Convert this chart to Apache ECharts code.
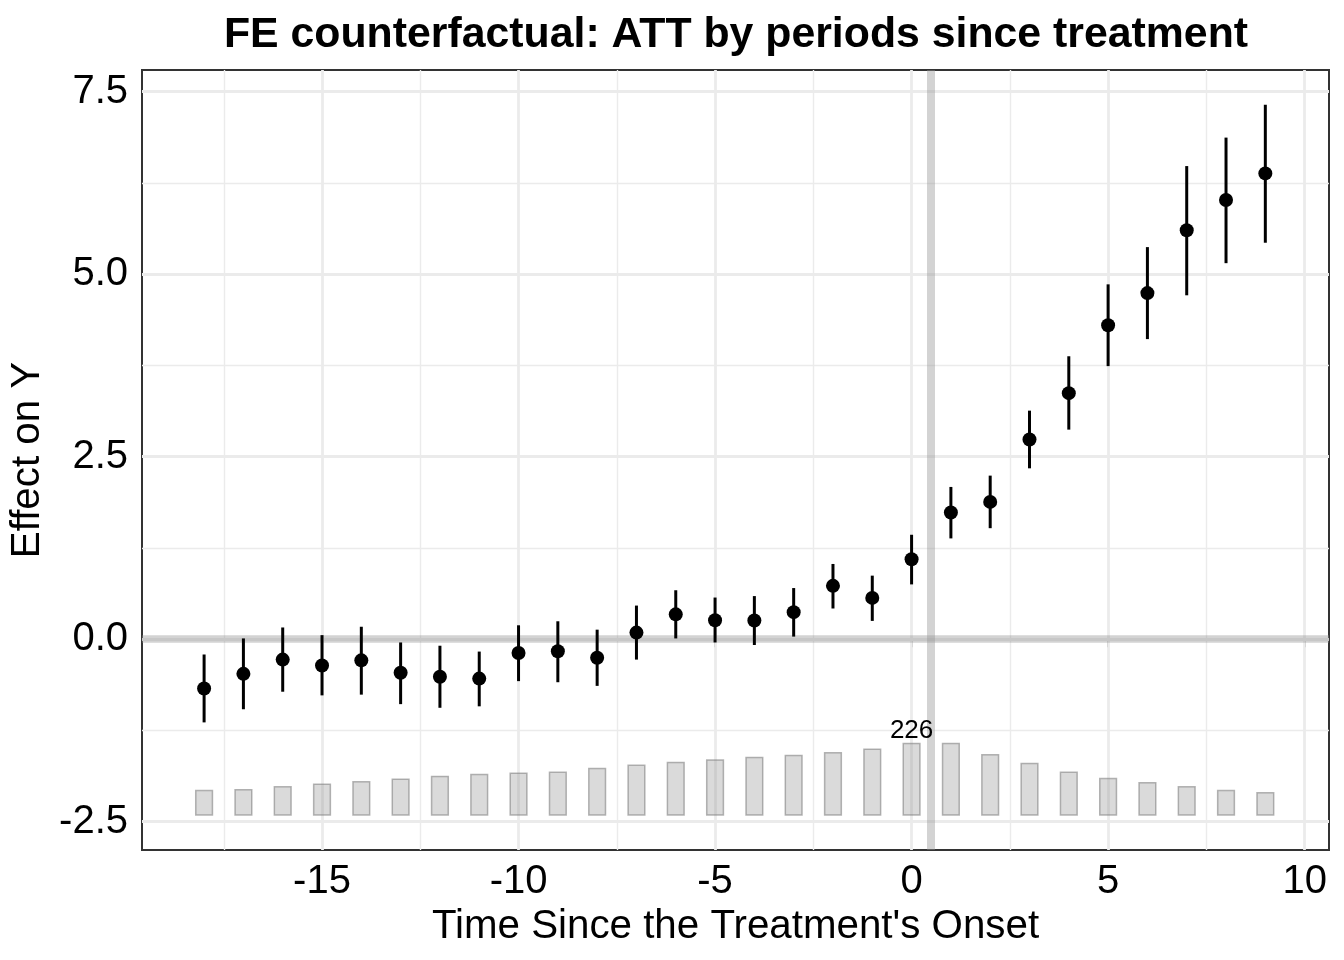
<!DOCTYPE html>
<html>
<head>
<meta charset="utf-8">
<script src="https://cdn.jsdelivr.net/npm/echarts@6/dist/echarts.min.js"></script>
<style>
html,body{margin:0;padding:0;background:#fff;}
#chart{width:1344px;height:960px;}
</style>
</head>
<body>
<div id="chart"></div>
<script>
// ---- data ----
const periods = [-18,-17,-16,-15,-14,-13,-12,-11,-10,-9,-8,-7,-6,-5,-4,-3,-2,-1,0,1,2,3,4,5,6,7,8,9];
const att     = [-0.675,-0.475,-0.28,-0.36,-0.29,-0.46,-0.515,-0.54,-0.19,-0.165,-0.255,0.09,0.34,0.26,0.255,0.37,0.73,0.565,1.095,1.735,1.88,2.735,3.37,4.30,4.74,5.60,6.015,6.38];
const ciLow   = [-1.14,-0.96,-0.72,-0.77,-0.76,-0.89,-0.94,-0.92,-0.575,-0.59,-0.64,-0.28,0.01,-0.045,-0.08,0.035,0.42,0.25,0.75,1.38,1.52,2.34,2.87,3.74,4.11,4.71,5.15,5.43];
const ciHigh  = [-0.21,0.01,0.16,0.055,0.17,-0.045,-0.09,-0.17,0.19,0.245,0.13,0.46,0.67,0.57,0.59,0.70,1.03,0.87,1.43,2.085,2.24,3.13,3.875,4.86,5.37,6.48,6.87,7.32];
const counts  = [77,80,89,97,105,113,122,128,132,135,147,157,166,174,182,188,197,208,226,226,191,163,135,115,102,89,77,70];

const xTicks = [-15,-10,-5,0,5,10];
const xMinor = [-17.5,-12.5,-7.5,-2.5,2.5,7.5];
const yTicks = [-2.5,0,2.5,5,7.5];
const yMinor = [-1.25,1.25,3.75,6.25];

const X_MIN = -19.58, X_MAX = 10.62;
const Y_MIN = -2.888, Y_MAX = 7.796;
const BAR_BASE = -2.407;      // y value where count bars start
const COUNT_SCALE = 0.00432;  // y units per observation
const BAR_HALF = 0.2125;      // half bar width in x units
const REF_X = 0.5;

const FONT = '"Liberation Sans", Arial, Helvetica, sans-serif';

const chart = echarts.init(document.getElementById('chart'), null, {renderer:'canvas'});

const maxCount = Math.max.apply(null, counts);
const maxIdx = counts.indexOf(maxCount);

const gridLines = [];
xTicks.forEach(v => gridLines.push({xAxis: v, lineStyle:{color:'#ebebeb', width:2.8, type:'solid'}}));
xMinor.forEach(v => gridLines.push({xAxis: v, lineStyle:{color:'#ebebeb', width:1.4, type:'solid'}}));
yTicks.forEach(v => gridLines.push({yAxis: v, lineStyle:{color:'#ebebeb', width:2.8, type:'solid'}}));
yMinor.forEach(v => gridLines.push({yAxis: v, lineStyle:{color:'#ebebeb', width:1.4, type:'solid'}}));

const refLines = [
  {yAxis: 0, lineStyle:{color:'rgba(150,150,150,0.42)', width:7.5, type:'solid'}},
  {xAxis: REF_X, lineStyle:{color:'rgba(150,150,150,0.42)', width:8, type:'solid'}}
];

const option = {
  backgroundColor:'#ffffff',
  animation:false,
  title:{
    text:'FE counterfactual: ATT by periods since treatment',
    left:731, top:9, textAlign:'center',
    textStyle:{fontFamily:FONT, fontWeight:'bold', fontSize:42.8, color:'#000'}
  },
  grid:{left:142, right:15, top:70, bottom:110, show:true, borderColor:'#333333', borderWidth:2, backgroundColor:'#fff'},
  xAxis:{
    type:'value', min:X_MIN, max:X_MAX,
    name:"Time Since the Treatment's Onset", nameLocation:'middle', nameGap:51,
    nameTextStyle:{fontFamily:FONT, fontSize:40.3, color:'#000'},
    axisLine:{show:false},
    axisTick:{show:true, customValues:xTicks, length:8, lineStyle:{color:'#333333', width:2}},
    axisLabel:{show:true, customValues:xTicks, margin:12, fontFamily:FONT, fontSize:40, color:'#000',
      formatter: v => String(v)},
    splitLine:{show:false}, minorSplitLine:{show:false}
  },
  yAxis:{
    type:'value', min:Y_MIN, max:Y_MAX,
    name:'Effect on Y', nameLocation:'middle', nameGap:94, nameRotate:90,
    nameTextStyle:{fontFamily:FONT, fontSize:40.3, color:'#000'},
    axisLine:{show:false},
    axisTick:{show:true, customValues:yTicks, length:8, lineStyle:{color:'#333333', width:2}},
    axisLabel:{show:true, customValues:yTicks, margin:14, fontFamily:FONT, fontSize:40, color:'#000',
      formatter: v => Number(v).toFixed(1)},
    splitLine:{show:false}, minorSplitLine:{show:false}
  },
  series:[
    {
      type:'line', data:[], z:1, silent:true,
      markLine:{silent:true, symbol:'none', z:1, animation:false, label:{show:false}, emphasis:{disabled:true}, data:gridLines}
    },
    {
      type:'line', data:[], z:3, silent:true,
      markLine:{silent:true, symbol:'none', z:3, animation:false, label:{show:false}, emphasis:{disabled:true}, data:refLines}
    },
    {
      type:'custom', z:4, silent:true,
      data: periods.map((p,i) => [p, counts[i], i]),
      renderItem:(params, api) => {
        const x = api.value(0), c = api.value(1), i = api.value(2);
        const p0 = api.coord([x - BAR_HALF, BAR_BASE]);
        const p1 = api.coord([x + BAR_HALF, BAR_BASE + c * COUNT_SCALE]);
        const children = [{
          type:'rect',
          shape:{x:p0[0], y:p1[1], width:p1[0]-p0[0], height:p0[1]-p1[1]},
          style:{fill:'rgba(140,140,140,0.32)', stroke:'rgba(120,120,120,0.55)', lineWidth:1.5}
        }];
        if (i === maxIdx) {
          const pc = api.coord([x, BAR_BASE + c * COUNT_SCALE]);
          children.push({
            type:'text',
            style:{text:String(c), x:pc[0], y:pc[1]-13, align:'center', verticalAlign:'middle',
              font:'26px ' + FONT, fill:'#000'}
          });
        }
        return {type:'group', children};
      }
    },
    {
      type:'custom', z:5, silent:true,
      data: periods.map((p,i) => [p, ciLow[i], ciHigh[i]]),
      renderItem:(params, api) => {
        const a = api.coord([api.value(0), api.value(1)]);
        const b = api.coord([api.value(0), api.value(2)]);
        return {type:'line', shape:{x1:a[0], y1:a[1], x2:b[0], y2:b[1]},
          style:{stroke:'#000', lineWidth:3, lineCap:'butt'}};
      }
    },
    {
      type:'scatter', z:6, silent:true,
      data: periods.map((p,i) => [p, att[i]]),
      symbol:'circle', symbolSize:14,
      itemStyle:{color:'#000', opacity:1}
    }
  ]
};
chart.setOption(option);
</script>
</body>
</html>
